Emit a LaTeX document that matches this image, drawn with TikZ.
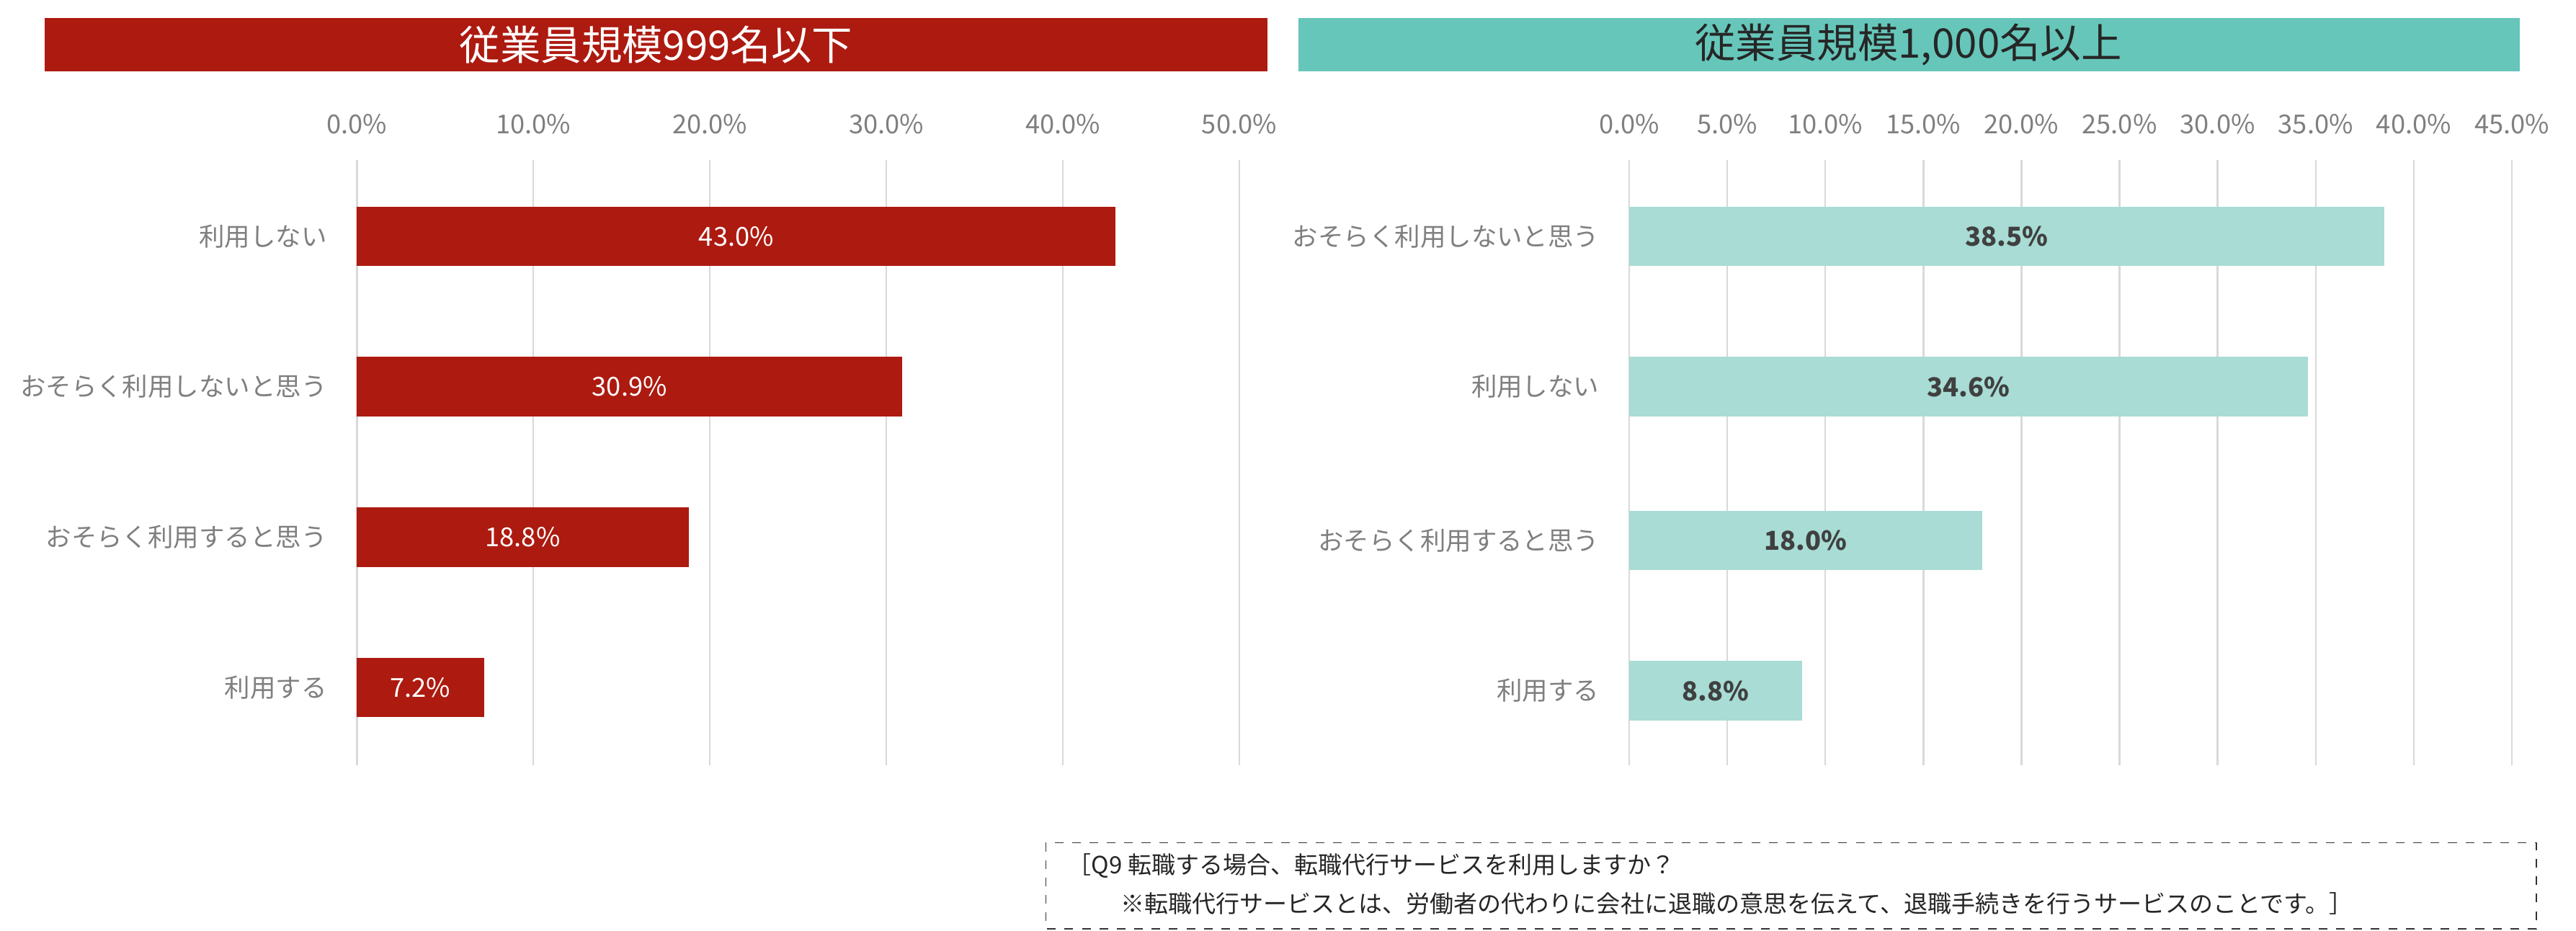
\documentclass[tikz,border=0pt]{standalone}
\usepackage{fontspec}
\setmainfont{Noto Sans CJK JP}
\definecolor{darkred}{HTML}{AD1A10}
\definecolor{teal}{HTML}{66C6BA}
\definecolor{lightteal}{HTML}{A8DCD5}
\definecolor{ticktext}{HTML}{7F7F7F}
\definecolor{gridgray}{HTML}{D9D9D9}
\tikzset{
  tick/.style={text=ticktext, font=\fontsize{9}{11}\selectfont},
  cat/.style={text=ticktext, font=\fontsize{8.8}{11}\selectfont, anchor=east},
  grid line/.style={draw=gridgray, line width=0.6pt},
}
\begin{document}
\begin{tikzpicture}[x=0.02cm, y=-0.02cm]
\useasboundingbox (0,0) rectangle (1559,563);
% headers
\fill[darkred] (27,11) rectangle (767,43);
\node[text=white, font=\fontsize{14}{16}\selectfont] (hleft) at (397,27) {従業員規模999名以下};
\fill[teal] (786,11) rectangle (1525,43);
\node[text=black!85, font=\fontsize{14}{16}\selectfont] (hright) at (1155,27) {従業員規模1,000名以上};
% left chart
\foreach \v in {0,10,...,50} {
  \draw[grid line] ({216+10.68*\v},97) -- ({216+10.68*\v},463);
  \node[tick] at ({216+10.68*\v},75) {\v.0\%};
}
\foreach \lab/\val/\y in {利用しない/43.0/143, おそらく利用しないと思う/30.9/234, おそらく利用すると思う/18.8/325, 利用する/7.2/416} {
  \fill[darkred] (216,\y-18) rectangle ({216+10.68*\val},\y+18);
  \node[cat] at (204,\y) {\lab};
  \node[text=white, font=\fontsize{9}{11}\selectfont] at ({216+5.34*\val},\y) {\val\%};
}
% right chart
\foreach \v in {0,5,...,45} {
  \draw[grid line] ({986+11.87*\v},97) -- ({986+11.87*\v},463);
  \node[tick] at ({986+11.87*\v},75) {\v.0\%};
}
\foreach \lab/\val/\y in {おそらく利用しないと思う/38.5/143, 利用しない/34.6/234, おそらく利用すると思う/18.0/327, 利用する/8.8/418} {
  \fill[lightteal] (986,\y-18) rectangle ({986+11.87*\val},\y+18);
  \node[cat] at (974,\y) {\lab};
  \node[text=black!75, font=\bfseries\fontsize{9}{11}\selectfont] at ({986+5.935*\val},\y) {\val\%};
}
% note
\draw[dashed, black!80] (633,510) rectangle (1535,562);
\node[anchor=west, font=\fontsize{8.2}{10}\selectfont, text=black!85] (q9) at (640,524) {［Q9 転職する場合、転職代行サービスを利用しますか？};
\node[anchor=west, font=\fontsize{8.2}{10}\selectfont, text=black!85] (notep) at (672,547) {※転職代行サービスとは、労働者の代わりに会社に退職の意思を伝えて、退職手続きを行うサービスのことです。］};
\end{tikzpicture}
\end{document}
